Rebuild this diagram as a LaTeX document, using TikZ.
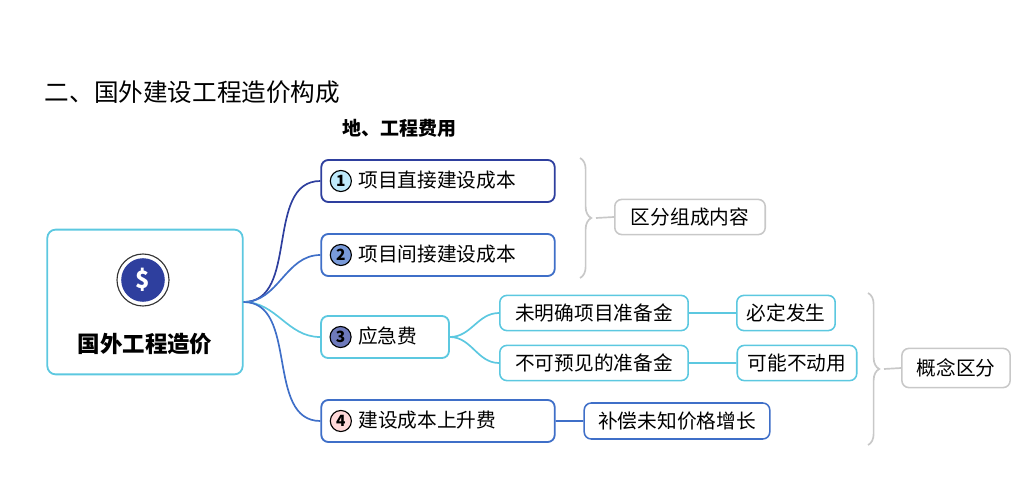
\documentclass[tikz,border=0pt]{standalone}
\usepackage{fontspec}
\setmainfont{Noto Sans CJK SC}
\usetikzlibrary{positioning,decorations.pathreplacing}
\definecolor{navy}{HTML}{2E3F9E}
\definecolor{midblue}{HTML}{3F6FC8}
\definecolor{aqua}{HTML}{5CC8E0}
\definecolor{greyline}{HTML}{C8C8C8}
\newcommand{\numdot}[2]{\tikz[baseline=-0.6ex]\node[circle,draw=black,line width=0.8pt,fill=#2,inner sep=0pt,minimum size=15pt,font=\bfseries\fontsize{11}{11}\selectfont]{#1};}
\tikzset{
  box/.style={draw=#1,line width=1.3pt,rounded corners=5pt,fill=white,inner xsep=6pt,minimum height=1.05cm,align=left,font=\fontsize{14}{15}\selectfont},
  leaf/.style={draw=#1,line width=1.1pt,rounded corners=5pt,fill=white,inner xsep=4pt,minimum height=0.98cm,font=\fontsize{14}{15}\selectfont},
  link/.style={draw=#1,line width=1.2pt}
}
\begin{document}
\begin{tikzpicture}[x=1pt,y=-1pt,scale=0.7113]
    \useasboundingbox (0,0) rectangle (1024,500);
    % Title lines
    \node[anchor=west,font=\fontsize{17.5}{20}\selectfont] (title) at (40,92) {二、国外建设工程造价构成};
    \node[anchor=west,font=\bfseries\fontsize{13.5}{16}\selectfont] (sub) at (338,128) {地、工程费用};

    % Root
    \node[draw=aqua,line width=1.3pt,rounded corners=6pt,minimum width=139pt,minimum height=103pt] (root) at (145,302) {};
    \node[circle,draw=black!80,line width=0.8pt,fill=white,minimum size=37pt,inner sep=0pt] (coinrim) at (143,280) {};
    \node[circle,fill=navy,minimum size=31pt,inner sep=0pt,text=white,font=\bfseries\fontsize{17}{17}\selectfont] (coin) at (143,280) {\$};
    \node[font=\bfseries\fontsize{16}{18}\selectfont] (rootlbl) at (145,344) {国外工程造价};

    % First level
    \node[box=navy,text width=154pt] (direct) at (438,181) {\numdot{1}{cyan!25}\ 项目直接建设成本};
    \node[box=midblue,text width=154pt] (indirect) at (438,255) {\numdot{2}{midblue!70}\ 项目间接建设成本};
    \node[box=aqua,text width=79pt] (contin) at (385,337) {\numdot{3}{navy!70}\ 应急费};
    \node[box=midblue,text width=154pt] (escal) at (438,421) {\numdot{4}{pink!60}\ 建设成本上升费};

    % Second level
    \node[leaf=aqua,minimum width=134pt,minimum height=0.88cm] (undef) at (594,313) {未明确项目准备金};
    \node[leaf=aqua,minimum width=134pt,minimum height=0.88cm] (unfore) at (594,363) {不可预见的准备金};
    \node[leaf=aqua,minimum width=70pt,minimum height=0.88cm] (must) at (786,313) {必定发生};
    \node[leaf=aqua,minimum width=85pt,minimum height=0.88cm] (maybe) at (797,363) {可能不动用};
    \node[leaf=midblue,minimum width=132pt,minimum height=0.9cm] (comp) at (677,421) {补偿未知价格增长};

    % Summary boxes
    \node[leaf=greyline,minimum width=107pt,minimum height=0.88cm] (sum1) at (690,217) {区分组成内容};
    \node[leaf=greyline,minimum width=77pt,minimum height=0.98cm] (sum2) at (956,368) {概念区分};

    % Connectors
    \draw[link=navy] (root.east) to[out=0,in=180] (direct.west);
    \draw[link=midblue] (root.east) to[out=0,in=180] (indirect.west);
    \draw[link=aqua] (root.east) to[out=0,in=180] (contin.west);
    \draw[link=midblue] (root.east) to[out=0,in=180] (escal.west);
    \draw[link=aqua] (contin.east) to[out=0,in=180] (undef.west);
    \draw[link=aqua] (contin.east) to[out=0,in=180] (unfore.west);
    \draw[link=aqua] (undef) -- (must);
    \draw[link=aqua] (unfore) -- (maybe);
    \draw[link=midblue] (escal) -- (comp);

    % Braces
    \coordinate (b1top) at (580,158);
    \coordinate (b1bot) at (580,278);
    \draw[greyline,line width=1.2pt,decorate,decoration={brace,amplitude=8pt}] (b1top) -- (b1bot);
    \draw[greyline,line width=1.2pt] (596,218) -- (sum1.west);
    \coordinate (b2top) at (868,293);
    \coordinate (b2bot) at (868,445);
    \draw[greyline,line width=1.2pt,decorate,decoration={brace,amplitude=8pt}] (b2top) -- (b2bot);
    \draw[greyline,line width=1.2pt] (884,369) -- (sum2.west);
\end{tikzpicture}
\end{document}
